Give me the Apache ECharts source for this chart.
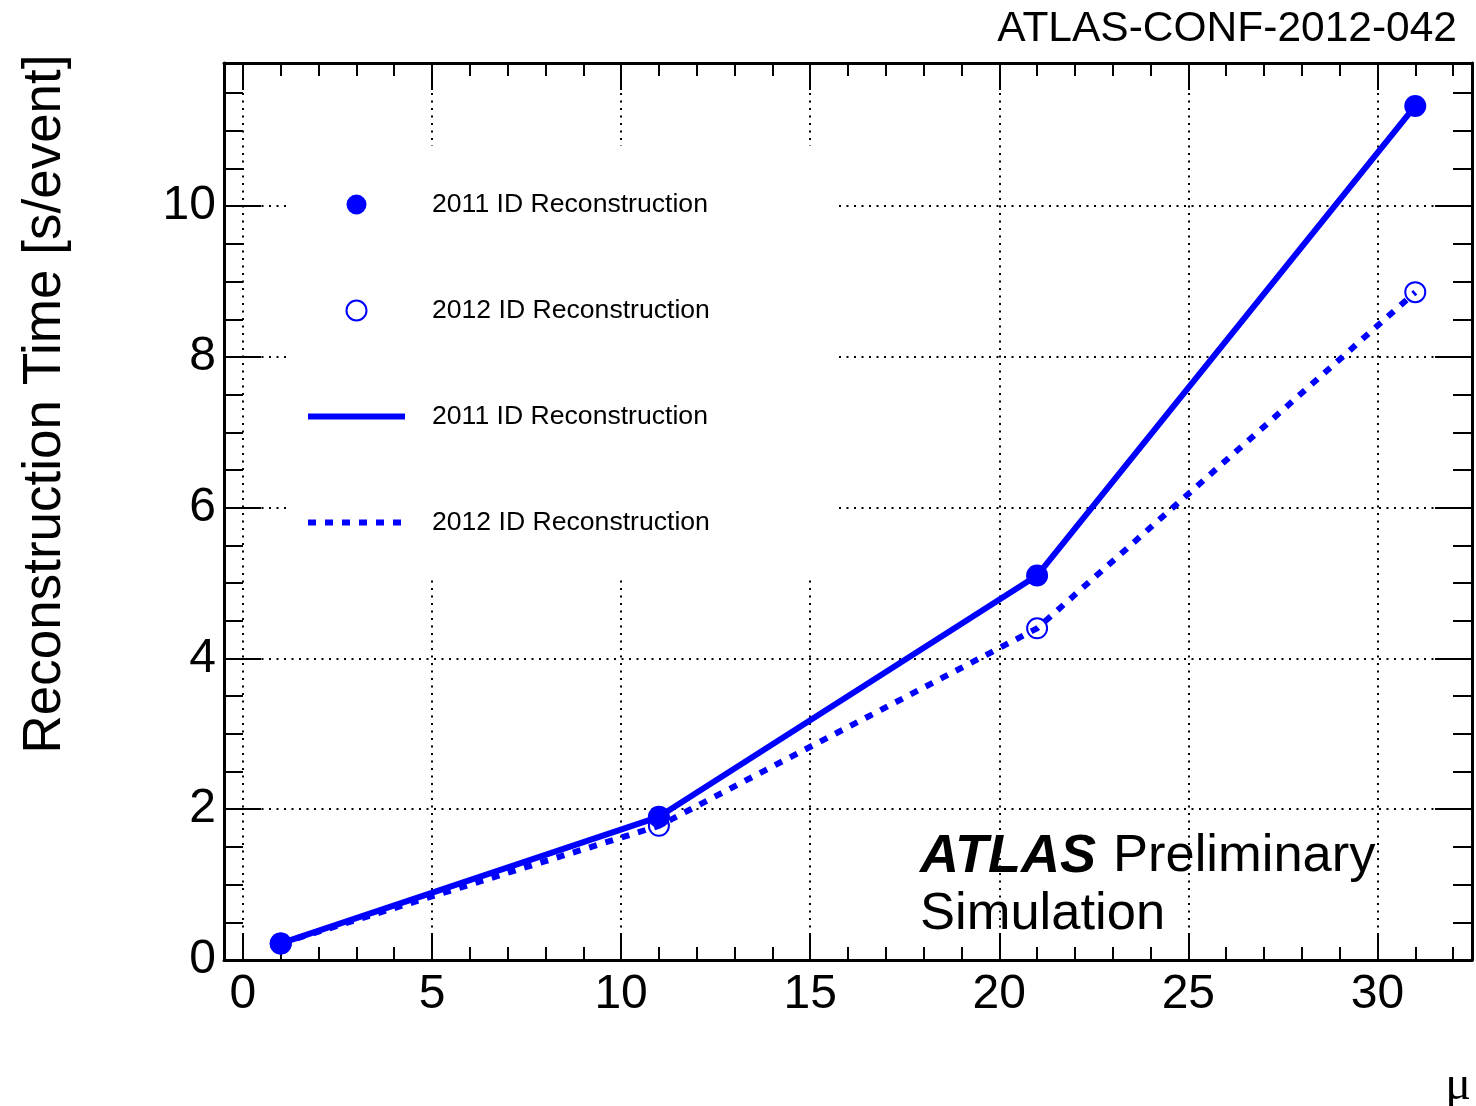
<!DOCTYPE html>
<html>
<head>
<meta charset="utf-8">
<script src="https://cdn.jsdelivr.net/npm/echarts@6/dist/echarts.min.js"></script>
<style>
html,body{margin:0;padding:0;background:#fff;}
#chart{width:1476px;height:1106px;}
</style>
</head>
<body>
<div id="chart"></div>
<script>
// ---- data ----
const mu = [1, 11, 21, 31];
const time2011 = [0.22, 1.90, 5.10, 11.33];
const time2012 = [0.22, 1.78, 4.40, 8.86];
const xTickValues = [0, 5, 10, 15, 20, 25, 30];
const yTickValues = [0, 2, 4, 6, 8, 10];
const seriesNames = ['2011 markers', '2012 markers', '2011 line', '2012 line'];
const legendLabels = ['2011 ID Reconstruction', '2012 ID Reconstruction', '2011 ID Reconstruction', '2012 ID Reconstruction'];
const titleText = 'ATLAS-CONF-2012-042';
const yTitle = 'Reconstruction Time [s/event]';
const xTitle = 'μ';

const FONT = '"Liberation Sans", Arial, Helvetica, sans-serif';
const BLUE = '#0000ff';

function pairs(xs, ys) { return xs.map((x, i) => [x, ys[i]]); }
const labelOf = {};
seriesNames.forEach((n, i) => { labelOf[n] = legendLabels[i]; });

const frameLine = { show: true, onZero: false, lineStyle: { color: '#000', width: 3 } };
const grid = { left: 224, right: 4, top: 63, bottom: 146, containLabel: false };

function xAxisDef(pos, labels) {
  return {
    type: 'value', position: pos, min: -0.5, max: 32.5,
    minInterval: 5, maxInterval: 5,
    axisLine: frameLine,
    axisTick: { show: true, inside: true, length: 27, lineStyle: { color: '#000', width: 2 } },
    minorTick: { show: true, splitNumber: 5, length: 13, lineStyle: { color: '#000', width: 2 } },
    axisLabel: labels ? { show: true, customValues: xTickValues, margin: 11, fontSize: 48, color: '#000', fontFamily: FONT } : { show: false },
    splitLine: labels ? { show: true, lineStyle: { color: '#000', width: 2, type: [2, 5.5] } } : { show: false },
    minorSplitLine: { show: false }
  };
}
function yAxisDef(pos, labels) {
  return {
    type: 'value', position: pos, min: 0, max: 11.9,
    minInterval: 2, maxInterval: 2,
    axisLine: frameLine,
    axisTick: { show: true, inside: true, length: 37, lineStyle: { color: '#000', width: 2 } },
    minorTick: { show: true, splitNumber: 4, length: 19, lineStyle: { color: '#000', width: 2 } },
    axisLabel: labels ? { show: true, customValues: yTickValues, margin: 8, fontSize: 48, color: '#000', fontFamily: FONT, padding: [4, 0, 0, 0] } : { show: false },
    splitLine: labels ? { show: true, lineStyle: { color: '#000', width: 2, type: [2, 5.5] } } : { show: false },
    minorSplitLine: { show: false }
  };
}

const hiddenSymbol = { color: 'rgba(0,0,0,0)', borderWidth: 0, opacity: 0 };

const chart = echarts.init(document.getElementById('chart'), null, { renderer: 'canvas' });
chart.setOption({
  backgroundColor: '#fff',
  animation: false,
  textStyle: { fontFamily: FONT },
  title: {
    text: titleText, right: 19, top: 8, padding: 0,
    textStyle: { fontSize: 42.5, fontWeight: 'normal', color: '#000', fontFamily: FONT }
  },
  grid: grid,
  xAxis: [xAxisDef('bottom', true), xAxisDef('top', false)],
  yAxis: [yAxisDef('left', true), yAxisDef('right', false)],
  legend: {
    orient: 'vertical', left: 288, top: 146,
    padding: [45, 128, 41, 17],
    backgroundColor: '#fff',
    itemWidth: 97, itemHeight: 20, itemGap: 79,
    selectedMode: false,
    formatter: n => labelOf[n],
    textStyle: { fontSize: 26.6, color: '#000', fontFamily: FONT, padding: [0, 0, 0, 22] },
    data: [
      { name: seriesNames[0] },
      { name: seriesNames[1] },
      { name: seriesNames[2], lineStyle: { width: 6 }, itemStyle: hiddenSymbol },
      { name: seriesNames[3], lineStyle: { width: 6 }, itemStyle: hiddenSymbol }
    ]
  },
  series: [
    {
      name: seriesNames[3], type: 'line', data: pairs(mu, time2012), symbol: 'none',
      lineStyle: { color: BLUE, width: 6, type: [8, 9] }, itemStyle: { color: BLUE }, z: 3
    },
    {
      name: seriesNames[2], type: 'line', data: pairs(mu, time2011), symbol: 'none',
      lineStyle: { color: BLUE, width: 6, type: 'solid' }, itemStyle: { color: BLUE }, z: 3
    },
    {
      name: seriesNames[1], type: 'scatter', data: pairs(mu, time2012), symbol: 'circle', symbolSize: 20,
      itemStyle: { color: 'rgba(0,0,0,0)', borderColor: BLUE, borderWidth: 2, opacity: 1 }, z: 4
    },
    {
      name: seriesNames[0], type: 'scatter', data: pairs(mu, time2011), symbol: 'circle', symbolSize: 22,
      itemStyle: { color: BLUE, opacity: 1 }, z: 5
    }
  ],
  graphic: [
    {
      type: 'text', x: 45, y: 404, rotation: Math.PI / 2,
      style: { text: yTitle, font: '53px ' + FONT, fill: '#000', textAlign: 'center', textVerticalAlign: 'middle' }
    },
    {
      type: 'text', x: 1471, y: 1086,
      style: { text: xTitle, font: '48px "Liberation Serif", "DejaVu Serif", serif', fill: '#000', textAlign: 'right', textVerticalAlign: 'middle' }
    },
    {
      type: 'text', x: 920, y: 857, z: 10,
      style: { text: 'ATLAS', font: 'italic bold 54px ' + FONT, fill: '#000', textAlign: 'left', textVerticalAlign: 'middle' }
    },
    {
      type: 'text', x: 1113, y: 857, z: 10,
      style: { text: 'Preliminary', font: '52.5px ' + FONT, fill: '#000', textAlign: 'left', textVerticalAlign: 'middle' }
    },
    {
      type: 'text', x: 920, y: 915, z: 10,
      style: { text: 'Simulation', font: '52.5px ' + FONT, fill: '#000', textAlign: 'left', textVerticalAlign: 'middle' }
    }
  ]
});
</script>
</body>
</html>
